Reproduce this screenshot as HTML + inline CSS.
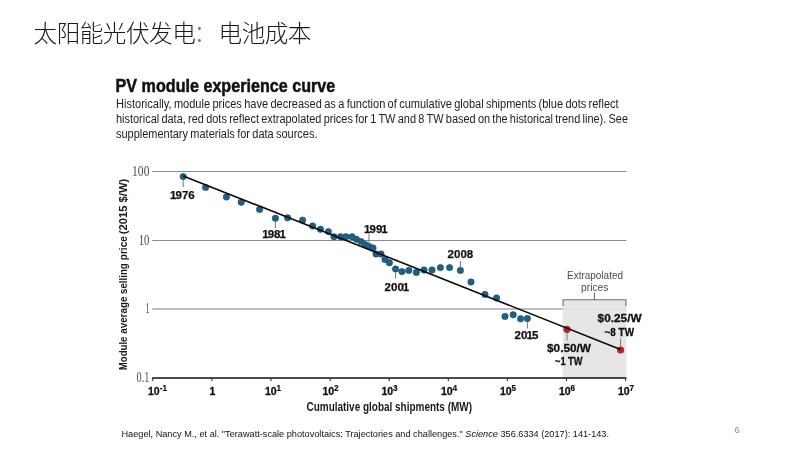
<!DOCTYPE html>
<html lang="zh"><head><meta charset="utf-8"><title>太阳能光伏发电：电池成本</title>
<style>html,body{margin:0;padding:0;background:#fff;}svg{display:block}text{font-family:'Liberation Sans', 'Noto Sans CJK SC', sans-serif;}</style></head><body>
<svg width="800" height="450" viewBox="0 0 800 450">
<rect width="800" height="450" fill="#fff"/>
<text y="41.6" font-size="23.6" font-weight="300" letter-spacing="-0.5" fill="#1a1a1a" style="font-family:'Liberation Sans','Noto Sans CJK SC',sans-serif"><tspan x="33.6">太阳能光伏发电</tspan><tspan x="193.6" fill="#7c7c7c">：</tspan><tspan x="218.6">电池成本</tspan></text>
<text x="115.6" y="91.7" font-size="18" font-weight="700" fill="#111" stroke="#111" stroke-width="0.5" textLength="219.6" lengthAdjust="spacingAndGlyphs">PV module experience curve</text>
<text x="116" y="107.8" font-size="12" fill="#222" word-spacing="-0.8" textLength="502.6" lengthAdjust="spacingAndGlyphs">Historically, module prices have decreased as a function of cumulative global shipments (blue dots reflect</text>
<text x="116" y="123.0" font-size="12" fill="#222" word-spacing="-0.8" textLength="512" lengthAdjust="spacingAndGlyphs">historical data, red dots reflect extrapolated prices for 1 TW and 8 TW based on the historical trend line). See</text>
<text x="116" y="138.2" font-size="12" fill="#222" word-spacing="-0.8" textLength="201.5" lengthAdjust="spacingAndGlyphs">supplementary materials for data sources.</text>
<rect x="562.6" y="299.7" width="63.8" height="78.3" fill="#e6e6e6"/>
<line x1="152.3" y1="171.5" x2="626.4" y2="171.5" stroke="#8c8c8c" stroke-width="1.1"/>
<line x1="152.3" y1="240.45" x2="626.4" y2="240.45" stroke="#8c8c8c" stroke-width="1.1"/>
<line x1="152.3" y1="309.0" x2="562.6" y2="309.0" stroke="#a8a8a8" stroke-width="1.4"/>
<line x1="562.6" y1="309" x2="626.4" y2="309" stroke="#dcdcdc" stroke-width="1.2"/>
<path d="M563.1 306V299.7H625.9V306M594.4 299.7V292.8" fill="none" stroke="#707070" stroke-width="1.1"/>
<line x1="152.2" y1="377.9" x2="626.4" y2="377.9" stroke="#111" stroke-width="1.5"/>
<line x1="152.8" y1="378" x2="152.8" y2="381" stroke="#222" stroke-width="1"/>
<line x1="211.9" y1="378" x2="211.9" y2="381" stroke="#222" stroke-width="1"/>
<line x1="271.0" y1="378" x2="271.0" y2="381" stroke="#222" stroke-width="1"/>
<line x1="330.1" y1="378" x2="330.1" y2="381" stroke="#222" stroke-width="1"/>
<line x1="389.2" y1="378" x2="389.2" y2="381" stroke="#222" stroke-width="1"/>
<line x1="448.3" y1="378" x2="448.3" y2="381" stroke="#222" stroke-width="1"/>
<line x1="507.4" y1="378" x2="507.4" y2="381" stroke="#222" stroke-width="1"/>
<line x1="566.5" y1="378" x2="566.5" y2="381" stroke="#222" stroke-width="1"/>
<line x1="625.6" y1="378" x2="625.6" y2="381" stroke="#222" stroke-width="1"/>
<text x="132.1" y="175.8" font-size="14" fill="#4a4a4a" textLength="17.3" lengthAdjust="spacingAndGlyphs" style="font-family:'Liberation Serif',serif">100</text>
<text x="138.7" y="244.7" font-size="14" fill="#4a4a4a" textLength="10.7" lengthAdjust="spacingAndGlyphs" style="font-family:'Liberation Serif',serif">10</text>
<text x="145.4" y="313.2" font-size="14" fill="#4a4a4a" textLength="4.0" lengthAdjust="spacingAndGlyphs" style="font-family:'Liberation Serif',serif">1</text>
<text x="136.6" y="381.9" font-size="14" fill="#4a4a4a" textLength="12.8" lengthAdjust="spacingAndGlyphs" style="font-family:'Liberation Serif',serif">0.1</text>
<text x="157.5" y="394.8" font-size="10.5" font-weight="700" text-anchor="middle" fill="#111" stroke="#111" stroke-width="0.3">10<tspan font-size="8.2" dy="-3.5" stroke-width="0.2">-1</tspan></text>
<text x="212.5" y="394.8" font-size="10.5" font-weight="700" text-anchor="middle" fill="#111" stroke="#111" stroke-width="0.3">1</text>
<text x="273" y="394.8" font-size="10.5" font-weight="700" text-anchor="middle" fill="#111" stroke="#111" stroke-width="0.3">10<tspan font-size="8.2" dy="-3.5" stroke-width="0.2">1</tspan></text>
<text x="330.5" y="394.8" font-size="10.5" font-weight="700" text-anchor="middle" fill="#111" stroke="#111" stroke-width="0.3">10<tspan font-size="8.2" dy="-3.5" stroke-width="0.2">2</tspan></text>
<text x="389.5" y="394.8" font-size="10.5" font-weight="700" text-anchor="middle" fill="#111" stroke="#111" stroke-width="0.3">10<tspan font-size="8.2" dy="-3.5" stroke-width="0.2">3</tspan></text>
<text x="449" y="394.8" font-size="10.5" font-weight="700" text-anchor="middle" fill="#111" stroke="#111" stroke-width="0.3">10<tspan font-size="8.2" dy="-3.5" stroke-width="0.2">4</tspan></text>
<text x="508" y="394.8" font-size="10.5" font-weight="700" text-anchor="middle" fill="#111" stroke="#111" stroke-width="0.3">10<tspan font-size="8.2" dy="-3.5" stroke-width="0.2">5</tspan></text>
<text x="567" y="394.8" font-size="10.5" font-weight="700" text-anchor="middle" fill="#111" stroke="#111" stroke-width="0.3">10<tspan font-size="8.2" dy="-3.5" stroke-width="0.2">6</tspan></text>
<text x="626" y="394.8" font-size="10.5" font-weight="700" text-anchor="middle" fill="#111" stroke="#111" stroke-width="0.3">10<tspan font-size="8.2" dy="-3.5" stroke-width="0.2">7</tspan></text>
<text x="306.5" y="411" font-size="12" font-weight="700" fill="#1a1a1a" textLength="165.5" lengthAdjust="spacingAndGlyphs">Cumulative global shipments (MW)</text>
<g transform="translate(127.2 370.2) rotate(-90)" font-size="11.6" font-weight="700" fill="#1a1a1a">
<text x="0" y="0" textLength="33.6" lengthAdjust="spacingAndGlyphs">Module</text>
<text x="36.4" y="0" textLength="37.2" lengthAdjust="spacingAndGlyphs">average</text>
<text x="76.3" y="0" textLength="30.7" lengthAdjust="spacingAndGlyphs">selling</text>
<text x="110" y="0" textLength="24.0" lengthAdjust="spacingAndGlyphs">price</text>
<text x="136" y="0" textLength="55.4" lengthAdjust="spacingAndGlyphs">(2015 $/W)</text>
</g>
<line x1="183.2" y1="180" x2="183.2" y2="187" stroke="#777" stroke-width="1"/>
<line x1="275.4" y1="222" x2="275.4" y2="228.3" stroke="#777" stroke-width="1"/>
<line x1="369" y1="234" x2="369" y2="243" stroke="#777" stroke-width="1"/>
<line x1="395.6" y1="272.5" x2="395.6" y2="278.5" stroke="#777" stroke-width="1"/>
<line x1="460.4" y1="261" x2="460.4" y2="267" stroke="#777" stroke-width="1"/>
<line x1="527.4" y1="321.5" x2="527.4" y2="328.5" stroke="#777" stroke-width="1"/>
<line x1="567" y1="333" x2="567" y2="340.5" stroke="#777" stroke-width="1"/>
<line x1="620.6" y1="338.5" x2="620.6" y2="346.5" stroke="#777" stroke-width="1"/>
<g fill="#1e6185" stroke="#174c68" stroke-width="0.6">
<circle cx="183.2" cy="176.6" r="3.2"/>
<circle cx="205.6" cy="187.4" r="3.2"/>
<circle cx="226.4" cy="197" r="3.2"/>
<circle cx="241.2" cy="202.2" r="3.2"/>
<circle cx="259.6" cy="209.4" r="3.2"/>
<circle cx="275.4" cy="218.2" r="3.2"/>
<circle cx="287.6" cy="217.8" r="3.2"/>
<circle cx="302.6" cy="220.2" r="3.2"/>
<circle cx="312.6" cy="226" r="3.2"/>
<circle cx="320.4" cy="229.2" r="3.2"/>
<circle cx="328.4" cy="231.6" r="3.2"/>
<circle cx="334" cy="236.8" r="3.2"/>
<circle cx="340.6" cy="236.8" r="3.2"/>
<circle cx="346" cy="236.8" r="3.2"/>
<circle cx="352" cy="236.8" r="3.2"/>
<circle cx="356.4" cy="239.2" r="3.2"/>
<circle cx="361" cy="241.6" r="3.2"/>
<circle cx="365" cy="244.4" r="3.2"/>
<circle cx="369" cy="246.4" r="3.2"/>
<circle cx="373" cy="248" r="3.2"/>
<circle cx="376" cy="254" r="3.2"/>
<circle cx="381" cy="254" r="3.2"/>
<circle cx="385" cy="259.6" r="3.2"/>
<circle cx="389.4" cy="262.8" r="3.2"/>
<circle cx="395.6" cy="269" r="3.2"/>
<circle cx="402" cy="271.6" r="3.2"/>
<circle cx="408.8" cy="270.4" r="3.2"/>
<circle cx="416.4" cy="272.4" r="3.2"/>
<circle cx="424" cy="270" r="3.2"/>
<circle cx="432" cy="270" r="3.2"/>
<circle cx="440.4" cy="267.6" r="3.2"/>
<circle cx="449.6" cy="267.6" r="3.2"/>
<circle cx="460.4" cy="270.4" r="3.2"/>
<circle cx="471" cy="282" r="3.2"/>
<circle cx="485" cy="294.4" r="3.2"/>
<circle cx="496.6" cy="298" r="3.2"/>
<circle cx="505" cy="316.4" r="3.2"/>
<circle cx="513.2" cy="314.8" r="3.2"/>
<circle cx="520.6" cy="318.8" r="3.2"/>
<circle cx="527.4" cy="318.5" r="3.2"/>
</g><g fill="#b9232c">
<circle cx="567" cy="329.3" r="3.6"/>
<circle cx="620.6" cy="350" r="3.6"/>
</g>
<line x1="183.2" y1="175.9" x2="620.6" y2="349.4" stroke="#0a0a0a" stroke-width="1.6"/>
<text x="171.0" y="198.8" dx="-0.95 -0.95 0.00 0.00" font-size="11.5" font-weight="700" fill="#111" stroke="#111" stroke-width="0.25">1976</text>
<text x="263.2" y="238.0" dx="-0.95 -0.95 0.00 -0.95" font-size="11.5" font-weight="700" fill="#111" stroke="#111" stroke-width="0.25">1981</text>
<text x="365.0" y="232.5" dx="-0.95 -0.95 0.00 -0.95" font-size="11.5" font-weight="700" fill="#111" stroke="#111" stroke-width="0.25">1991</text>
<text x="384.6" y="291.1" dx="0.00 0.00 0.00 -0.95" font-size="11.5" font-weight="700" fill="#111" stroke="#111" stroke-width="0.25">2001</text>
<text x="447.6" y="257.7" dx="0.00 0.00 0.00 0.00" font-size="11.5" font-weight="700" fill="#111" stroke="#111" stroke-width="0.25">2008</text>
<text x="514.6" y="339.4" dx="0.00 0.00 -0.95 -0.95" font-size="11.5" font-weight="700" fill="#111" stroke="#111" stroke-width="0.25">2015</text>
<text x="547" y="351.8" font-size="11.7" font-weight="700" fill="#111" stroke="#111" stroke-width="0.3" textLength="44" lengthAdjust="spacingAndGlyphs">$0.50/W</text>
<text x="555" y="365" font-size="11" font-weight="700" fill="#111" stroke="#111" stroke-width="0.3" textLength="27.4" lengthAdjust="spacingAndGlyphs">~1 TW</text>
<text x="597.6" y="322.3" font-size="11.7" font-weight="700" fill="#111" stroke="#111" stroke-width="0.3" textLength="44" lengthAdjust="spacingAndGlyphs">$0.25/W</text>
<text x="604.6" y="336.2" font-size="11" font-weight="700" fill="#111" stroke="#111" stroke-width="0.3" textLength="29.4" lengthAdjust="spacingAndGlyphs">~8 TW</text>
<text x="567" y="278.6" font-size="11.3" fill="#4a4a4a" textLength="56" lengthAdjust="spacingAndGlyphs">Extrapolated</text>
<text x="581" y="291" font-size="11.3" fill="#4a4a4a" textLength="27.4" lengthAdjust="spacingAndGlyphs">prices</text>
<text x="121.5" y="437" font-size="9.3" fill="#111" textLength="487.5" lengthAdjust="spacingAndGlyphs">Haegel, Nancy M., et al. "Terawatt-scale photovoltaics: Trajectories and challenges." <tspan font-style="italic">Science</tspan> 356.6334 (2017): 141-143.</text>
<text x="734.4" y="433" font-size="9.5" fill="#8a8a8a">6</text>
</svg></body></html>
